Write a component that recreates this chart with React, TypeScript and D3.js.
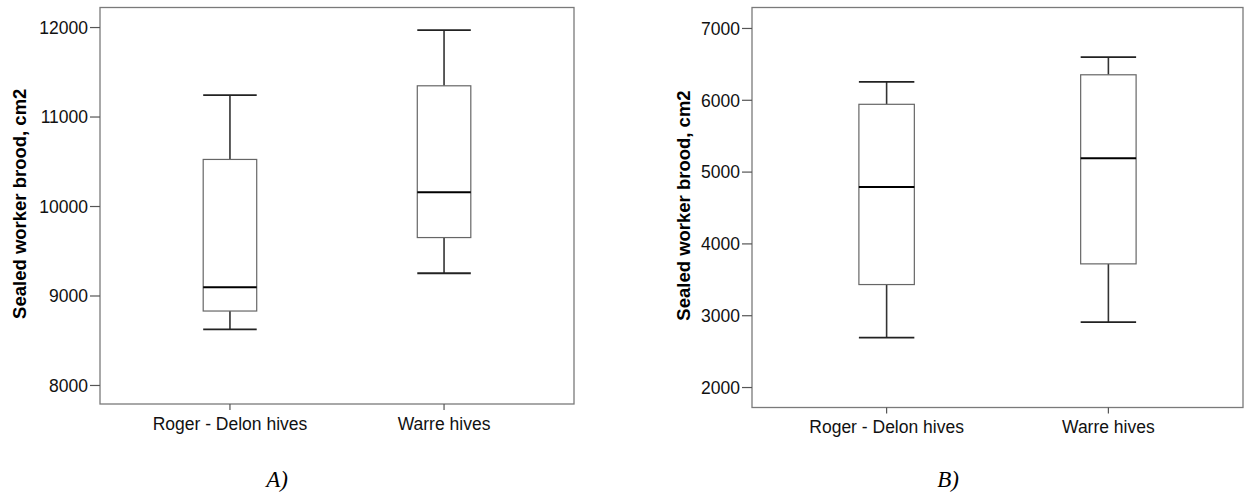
import React from "react";
import * as d3 from "d3";

const categories = ["Roger - Delon hives", "Warre hives"];

// Panel A: [lowerWhisker, Q1, median, Q3, upperWhisker]
const statsA = [
  [8627, 8832, 9097, 10526, 11245],
  [9254, 9653, 10160, 11349, 11972],
];
const ticksA = [8000, 9000, 10000, 11000, 12000];
const domainA: [number, number] = [7793, 12224];

// Panel B
const statsB = [
  [2694, 3434, 4791, 5944, 6257],
  [2912, 3722, 5193, 6355, 6601],
];
const ticksB = [2000, 3000, 4000, 5000, 6000, 7000];
const domainB: [number, number] = [1722, 7292];

const yTitle = "Sealed worker brood, cm2";

type PanelProps = {
  stats: number[][];
  ticks: number[];
  domain: [number, number];
  left: number;
  right: number;
  top: number;
  bottom: number;
  titleX: number;
  label: string;
  labelX: number;
};

function Panel({ stats, ticks, domain, left, right, top, bottom, titleX, label, labelX }: PanelProps) {
  const y = d3.scaleLinear().domain(domain).range([bottom, top]);
  const x = d3.scalePoint<string>().domain(categories).range([left, right]).padding(0.607);
  const step = x.step();
  const boxW = step * 0.25;
  const capW = step * 0.125;
  const font = "'Liberation Sans', Arial, sans-serif";
  return (
    <g>
      <rect x={left} y={top} width={right - left} height={bottom - top} fill="none" stroke="#7a7a7a" strokeWidth={1.3} />
      {ticks.map((t) => (
        <g key={t}>
          <line x1={left - 10} x2={left} y1={y(t)} y2={y(t)} stroke="#555" strokeWidth={1.2} />
          <text x={left - 12} y={y(t)} dy="0.36em" textAnchor="end" fontFamily={font} fontSize={17.5} fill="#111">
            {t}
          </text>
        </g>
      ))}
      {categories.map((c, i) => {
        const cx = x(c)!;
        const [lo, q1, med, q3, hi] = stats[i];
        return (
          <g key={c}>
            <line x1={cx} x2={cx} y1={bottom} y2={bottom + 6} stroke="#555" strokeWidth={1.2} />
            <text x={cx} y={bottom + 25.5} textAnchor="middle" fontFamily={font} fontSize={17.5} fill="#111">
              {c}
            </text>
            <line x1={cx} x2={cx} y1={y(hi)} y2={y(q3)} stroke="#333" strokeWidth={1.6} />
            <line x1={cx} x2={cx} y1={y(q1)} y2={y(lo)} stroke="#333" strokeWidth={1.6} />
            <line x1={cx - capW} x2={cx + capW} y1={y(hi)} y2={y(hi)} stroke="#222" strokeWidth={1.8} />
            <line x1={cx - capW} x2={cx + capW} y1={y(lo)} y2={y(lo)} stroke="#222" strokeWidth={1.8} />
            <rect x={cx - boxW / 2} y={y(q3)} width={boxW} height={y(q1) - y(q3)} fill="#fff" stroke="#666" strokeWidth={1.2} />
            <line x1={cx - boxW / 2} x2={cx + boxW / 2} y1={y(med)} y2={y(med)} stroke="#000" strokeWidth={2} />
          </g>
        );
      })}
      <text
        transform={`translate(${titleX},${(top + bottom) / 2 - 2}) rotate(-90)`}
        textAnchor="middle"
        dy="0.35em"
        fontFamily={font}
        fontWeight="bold"
        fontSize={18.5}
        fill="#000"
      >
        {yTitle}
      </text>
      <text x={labelX} y={487} textAnchor="middle" fontFamily="'Liberation Serif', 'Times New Roman', serif" fontStyle="italic" fontSize={23} fill="#000">
        {label}
      </text>
    </g>
  );
}

export default function App() {
  return (
    <svg width={1244} height={492} style={{ position: "absolute", left: 0, top: 0, background: "#fff" }}>
      <rect width={1244} height={492} fill="#fff" />
      <Panel stats={statsA} ticks={ticksA} domain={domainA} left={100} right={574} top={7.5} bottom={404} titleX={20} label="A)" labelX={277} />
      <Panel stats={statsB} ticks={ticksB} domain={domainB} left={752} right={1243} top={7.5} bottom={407.5} titleX={684} label="B)" labelX={948} />
    </svg>
  );
}
